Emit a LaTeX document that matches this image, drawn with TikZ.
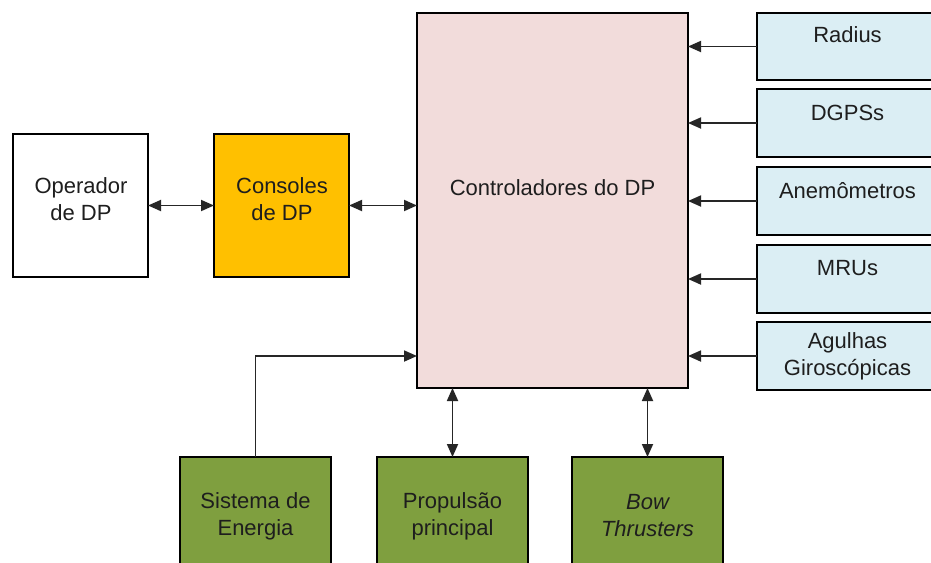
\documentclass[tikz,border=0pt]{standalone}
\usepackage{fontspec}
\setmainfont{Liberation Sans}
\usetikzlibrary{arrows.meta}
\definecolor{ctrlpink}{HTML}{F2DCDB}
\definecolor{sensblue}{HTML}{DBEEF4}
\definecolor{consorange}{HTML}{FFC000}
\definecolor{actgreen}{HTML}{7F9F3F}
\definecolor{txt}{HTML}{1E1E1E}
\tikzset{
  blk/.style={draw=black, line width=1.6pt, rectangle, inner sep=0pt, outer sep=0pt},
  lbl/.style={align=center, inner sep=0pt, text=txt, font=\fontsize{22}{27}\selectfont},
  conn/.style={line width=1.8pt, draw=black!85},
  tip/.style={-{Triangle[length=13pt,width=11pt]}},
  dtip/.style={{Triangle[length=13pt,width=11pt]}-{Triangle[length=13pt,width=11pt]}}
}
\begin{document}
\begin{tikzpicture}[x=1pt,y=-1pt]
\clip (0,0) rectangle (931,562);
\fill[white] (0,0) rectangle (931,562);
% boxes
\node[blk, fill=white, minimum width=135pt, minimum height=143pt] (op) at (80.5,205.5) {};
\node[blk, fill=consorange, minimum width=135pt, minimum height=143pt] (con) at (281.5,205.5) {};
\node[blk, fill=ctrlpink, minimum width=271pt, minimum height=375pt] (ctrl) at (552.5,200.5) {};
\node[blk, fill=sensblue, minimum width=181pt, minimum height=67pt] (rad) at (847.5,46.5) {};
\node[blk, fill=sensblue, minimum width=181pt, minimum height=68pt] (dgps) at (847.5,123) {};
\node[blk, fill=sensblue, minimum width=181pt, minimum height=68pt] (ane) at (847.5,201) {};
\node[blk, fill=sensblue, minimum width=181pt, minimum height=68pt] (mru) at (847.5,279) {};
\node[blk, fill=sensblue, minimum width=181pt, minimum height=68pt] (agu) at (847.5,356) {};
\node[blk, fill=actgreen, minimum width=151pt, minimum height=143pt] (ene) at (255.5,528.5) {};
\node[blk, fill=actgreen, minimum width=151pt, minimum height=143pt] (prop) at (452.5,528.5) {};
\node[blk, fill=actgreen, minimum width=151pt, minimum height=143pt] (bow) at (647.5,528.5) {};
% labels
\node[lbl] (opt) at (81,199) {Operador\\de DP};
\node[lbl] (cont) at (282,199) {Consoles\\de DP};
\node[lbl] (ctrlt) at (552.5,188) {Controladores do DP};
\node[lbl] (radt) at (847.5,35) {Radius};
\node[lbl] (dgpst) at (847.5,113) {DGPSs};
\node[lbl] (anet) at (847.5,191) {Anemômetros};
\node[lbl] (mrut) at (847.5,268) {MRUs};
\node[lbl] (agut) at (847.5,356) {Agulhas\\Giroscópicas};
\node[lbl] (enet) at (255.5,516) {Sistema de\\Energia};
\node[lbl] (propt) at (452.5,516) {Propulsão\\principal};
\node[lbl] (bowt) at (647.5,516) {\itshape Bow\\\itshape Thrusters};
% connectors
\draw[conn, dtip] (op.east) -- (con.west);
\draw[conn, dtip] (con.east) -- (con.east -| ctrl.west);
\draw[conn, tip] (rad.west) -- (rad.west -| ctrl.east);
\draw[conn, tip] (dgps.west) -- (dgps.west -| ctrl.east);
\draw[conn, tip] (ane.west) -- (ane.west -| ctrl.east);
\draw[conn, tip] (mru.west) -- (mru.west -| ctrl.east);
\draw[conn, tip] (agu.west) -- (agu.west -| ctrl.east);
\draw[conn, tip] (ene.north) |- (agu.west -| ctrl.west);
\draw[conn, dtip] (prop.north) -- (prop.north |- ctrl.south);
\draw[conn, dtip] (bow.north) -- (bow.north |- ctrl.south);
\end{tikzpicture}
\end{document}
